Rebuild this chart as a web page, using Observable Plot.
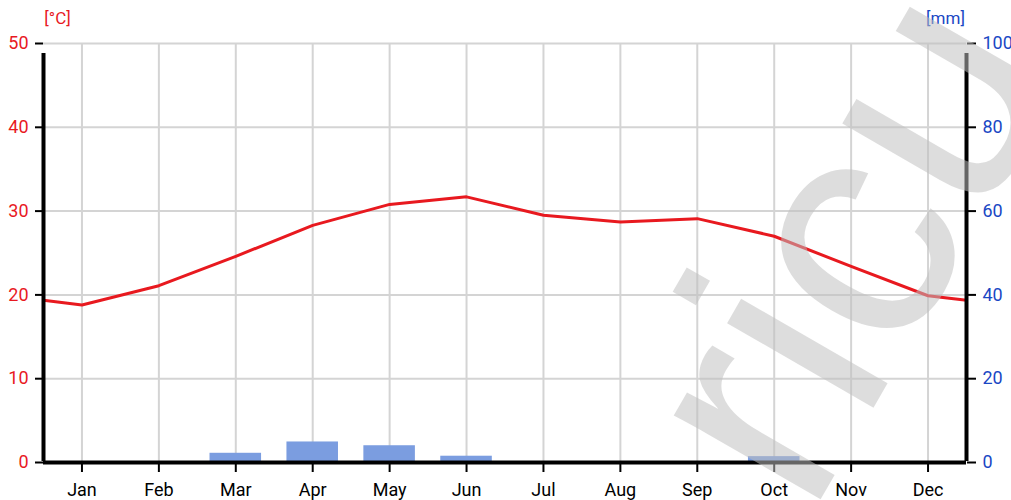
<!DOCTYPE html>
<html>
<head>
<meta charset="utf-8">
<script src="https://cdn.jsdelivr.net/npm/d3@7"></script>
<script src="https://cdn.jsdelivr.net/npm/@observablehq/plot@0.6"></script>
<style>
  html, body { margin: 0; padding: 0; background: #fff; }
  svg { display: block; }
</style>
</head>
<body>
<div id="chart"></div>
<script>
const months = ["Jan", "Feb", "Mar", "Apr", "May", "Jun", "Jul", "Aug", "Sep", "Oct", "Nov", "Dec"];
const temperature = [18.8, 21.1, 24.6, 28.3, 30.8, 31.7, 29.5, 28.7, 29.1, 27.0, 23.4, 19.9];
const precipitation = [0, 0, 2.2, 4.9, 4.0, 1.5, 0, 0, 0, 1.4, 0, 0];
const tempTicks = [0, 10, 20, 30, 40, 50];
const precipTicks = [0, 20, 40, 60, 80, 100];
const tempUnit = "[°C]";
const precipUnit = "[mm]";
const watermark = "ricu";

const RED = "#e8191f";
const BLUE = "#1a47c4";
const BAR = "#7b9de0";
const GRID = "#d4d4d4";

const rows = months.map((m, i) => ({i: i + 1, month: m, t: temperature[i], p: precipitation[i]}));
// wrap-around value at the chart edges (between Dec and Jan)
const edge = (temperature[0] + temperature[11]) / 2;
const lineData = [{i: 0.5, t: edge}, ...rows, {i: 12.5, t: edge}];
// precipitation is drawn on the temperature scale: 100 mm ↔ 50 °C
const ratio = precipTicks[precipTicks.length - 1] / tempTicks[tempTicks.length - 1];
const monthIdx = rows.map(d => d.i);

const chart = Plot.plot({
  width: 1011,
  height: 500,
  marginLeft: 43,
  marginRight: 45,
  marginTop: 43,
  marginBottom: 38,
  style: {fontFamily: "Roboto, 'Noto Sans', sans-serif", fontSize: "18px", background: "#fff"},
  x: {domain: [0.5, 12.5]},
  y: {domain: [0, 50]},
  marks: [
    Plot.gridX(monthIdx, {stroke: GRID, strokeOpacity: 1, strokeWidth: 2}),
    Plot.gridY(tempTicks, {stroke: GRID, strokeOpacity: 1, strokeWidth: 2}),
    Plot.rectY(rows, {x1: d => d.i - 0.335, x2: d => d.i + 0.335, y1: 0, y2: d => d.p / ratio, fill: BAR}),
    Plot.line(lineData, {x: "i", y: "t", stroke: RED, strokeWidth: 3}),
    Plot.axisY(tempTicks, {anchor: "left", label: null, tickSize: 8, tickPadding: 7, fill: RED, stroke: "black", strokeWidth: 2, fontSize: 18}),
    Plot.axisY(tempTicks, {anchor: "right", label: null, tickSize: 9, tickPadding: 7, tickFormat: d => String(d * ratio), fill: BLUE, stroke: "black", strokeWidth: 2, fontSize: 18}),
    Plot.axisX(monthIdx, {anchor: "bottom", label: null, tickSize: 10, tickPadding: 11, tickFormat: d => months[d - 1], fill: "black", stroke: "black", strokeWidth: 2, fontSize: 18}),
    Plot.ruleY([0], {stroke: "black", strokeWidth: 4}),
    Plot.ruleX([0.5, 12.5], {y1: 0, y2: 50, stroke: "black", strokeWidth: 4, insetBottom: -10, insetTop: -1}),
    Plot.text([tempUnit], {frameAnchor: "top-left", dx: 14, dy: -20, text: d => d, fill: RED, fontSize: 17, textAnchor: "middle", lineAnchor: "bottom"}),
    Plot.text([precipUnit], {frameAnchor: "top-right", dx: -21, dy: -20, text: d => d, fill: BLUE, fontSize: 17, textAnchor: "middle", lineAnchor: "bottom"}),
    Plot.text([watermark], {frameAnchor: "top-left", dx: 766, dy: 475, text: d => d, rotate: -60, fontSize: 320, fontFamily: "'Liberation Sans', Arial, sans-serif", fontWeight: "normal", fill: "#bfbfbf", fillOpacity: 0.53, textAnchor: "start", lineAnchor: "bottom"})
  ]
});
document.getElementById("chart").appendChild(chart);
</script>
</body>
</html>
